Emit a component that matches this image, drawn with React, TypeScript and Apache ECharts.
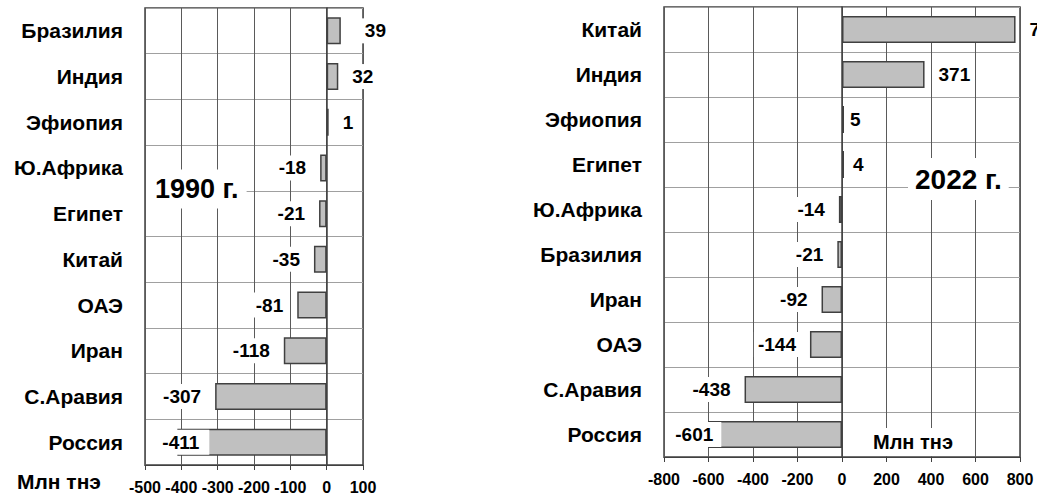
import React, { useEffect, useRef } from "react";
import * as echarts from "echarts";

const categories1990 = ["Бразилия", "Индия", "Эфиопия", "Ю.Африка", "Египет", "Китай", "ОАЭ", "Иран", "С.Аравия", "Россия"];
const values1990 = [39, 32, 1, -18, -21, -35, -81, -118, -307, -411];
const categories2022 = ["Китай", "Индия", "Эфиопия", "Египет", "Ю.Африка", "Бразилия", "Иран", "ОАЭ", "С.Аравия", "Россия"];
const values2022 = [780, 371, 5, 4, -14, -21, -92, -144, -438, -601];
const axis1990 = { min: -500, max: 100, interval: 100 };
const axis2022 = { min: -800, max: 800, interval: 200 };
const title1990 = "1990 г.";
const title2022 = "2022 г.";
const unitLabel = "Млн тнэ";

const FONT = '"Liberation Sans", Arial, sans-serif';

// label tweaks (style only)
const labelTweaks1990: Record<number, any> = {
  0: { offset: [10, 0] },
  9: { position: "insideLeft", distance: 0, offset: [-17, 0], padding: [3, 10, 3, 2] },
};
const labelTweaks2022: Record<number, any> = {
  2: { offset: [-8, 0] },
  3: { offset: [-5, 0] },
  9: { position: "insideLeft", distance: 0, offset: [-35, 0], padding: [3, 8, 3, 2] },
};

function buildData(values: number[], tweaks: Record<number, any>) {
  return values.map((v, i) => ({
    value: v,
    label: { position: v < 0 ? "left" : "right", ...(tweaks[i] || {}) },
  }));
}

export default function App() {
  const ref = useRef<HTMLDivElement>(null);
  useEffect(() => {
    if (!ref.current) return;
    const chart = echarts.init(ref.current, null, { renderer: "svg" });
    const grids = [
      { left: 145, top: 8, width: 218, height: 457 },
      { left: 664, top: 7, width: 356, height: 450 },
    ];
    const xAxisBase = (ax: any, gi: number) => ({
      type: "value",
      gridIndex: gi,
      min: ax.min,
      max: ax.max,
      interval: ax.interval,
      axisLine: { show: true, lineStyle: { color: "#404040", width: 1 } },
      axisTick: { show: true, length: 5, lineStyle: { color: "#404040" } },
      axisLabel: { color: "#000", fontSize: 16, fontWeight: "bold", fontFamily: FONT, margin: 14 },
      splitLine: { show: true, lineStyle: { color: "#5a5a5a", width: 1 } },
    });
    const yAxisBase = (cats: string[], gi: number) => ({
      type: "category",
      gridIndex: gi,
      data: cats,
      inverse: true,
      axisLine: { show: true, lineStyle: { color: "#404040", width: 1.5 } },
      axisTick: { show: false },
      axisLabel: { color: "#000", fontSize: 21, fontWeight: "bold", fontFamily: FONT, margin: 22 },
      splitLine: { show: true, lineStyle: { color: "#a0a0a0", width: 1 } },
    });
    const seriesBase = (data: any[], gi: number) => ({
      type: "bar",
      xAxisIndex: gi,
      yAxisIndex: gi,
      data,
      barWidth: 27,
      barMinHeight: 2,
      itemStyle: { color: "#c0c0c0", borderColor: "#404040", borderWidth: 1.5 },
      label: {
        show: true,
        color: "#000",
        fontSize: 19,
        fontWeight: "bold",
        fontFamily: FONT,
        backgroundColor: "#fff",
        padding: [3, 4],
        distance: 10,
      },
      z: 5,
    });
    chart.setOption({
      animation: false,
      backgroundColor: "#fff",
      grid: grids.map((g) => ({ ...g, show: true, borderColor: "#404040", borderWidth: 1.5, backgroundColor: "transparent" })),
      xAxis: [xAxisBase(axis1990, 0), xAxisBase(axis2022, 1)],
      yAxis: [yAxisBase(categories1990, 0), yAxisBase(categories2022, 1)],
      series: [
        seriesBase(buildData(values1990, labelTweaks1990), 0),
        seriesBase(buildData(values2022, labelTweaks2022), 1),
      ],
      graphic: [
        {
          type: "text",
          x: 146,
          y: 189,
          z: 100,
          style: {
            text: title1990,
            font: `bold 27px ${FONT}`,
            fill: "#000",
            backgroundColor: "#fff",
            padding: [6, 8, 6, 9],
            align: "left",
            verticalAlign: "middle",
          },
        },
        {
          type: "text",
          x: 908,
          y: 179,
          z: 100,
          style: {
            text: title2022,
            font: `bold 28px ${FONT}`,
            fill: "#000",
            backgroundColor: "#fff",
            padding: [7, 7, 7, 7],
            align: "left",
            verticalAlign: "middle",
          },
        },
        {
          type: "text",
          x: 17,
          y: 481,
          z: 100,
          style: {
            text: unitLabel,
            font: `bold 21px ${FONT}`,
            fill: "#000",
            align: "left",
            verticalAlign: "middle",
          },
        },
        {
          type: "text",
          x: 867,
          y: 442,
          z: 100,
          style: {
            text: unitLabel,
            font: `bold 20px ${FONT}`,
            fill: "#000",
            backgroundColor: "#fff",
            padding: [4, 6],
            align: "left",
            verticalAlign: "middle",
          },
        },
      ],
    });
    return () => chart.dispose();
  }, []);
  return (
    <div
      ref={ref}
      style={{ position: "fixed", left: 0, top: 0, width: 1037, height: 496, overflow: "hidden", background: "#fff" }}
    />
  );
}
